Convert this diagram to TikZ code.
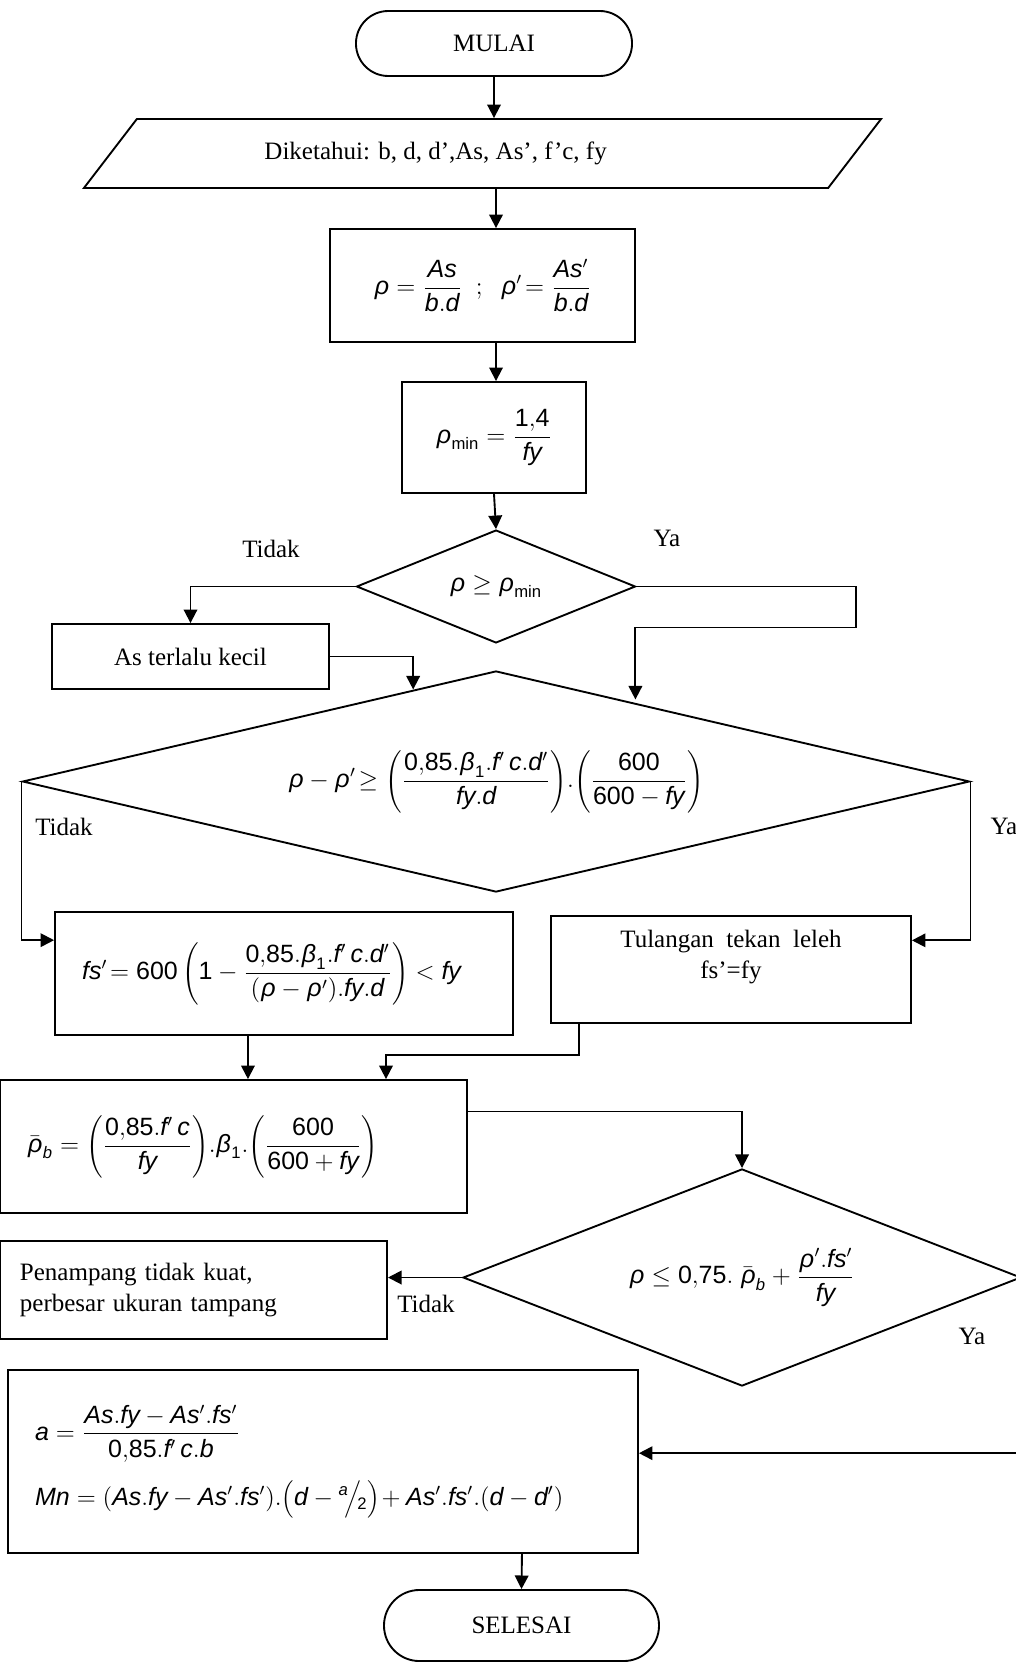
\documentclass[tikz,border=0pt]{standalone}
\usepackage{mathspec}
\setmainfont{Liberation Serif}
\setmathsfont(Digits,Latin,Greek)[Numbers={Lining,Proportional}]{Liberation Sans}
\setmathrm{Liberation Sans}
\usetikzlibrary{positioning,shapes.geometric,arrows.meta}

\begin{document}
\begin{tikzpicture}[
    x=0.48pt, y=-0.48pt, % one unit = one pixel of the page
    >={Triangle[length=6.5pt,width=6.5pt]}, line width=0.9pt,
    font=\fontsize{12}{14.5}\selectfont,
    box/.style={rectangle, draw=black, inner sep=2pt, align=center},
    leftbox/.style={box, align=left, inner ysep=2pt},
    terminal/.style={box, rounded corners=15.5pt},
    decision/.style={diamond, draw=black, inner sep=0pt},
    io/.style={trapezium, draw=black, trapezium left angle=23.5,
        trapezium right angle=156.5, trapezium stretches body, inner sep=0pt},
    lbl/.style={inner sep=0pt}
]
    \useasboundingbox (0,0) rectangle (1016,1663);
    \clip (0,0) rectangle (1016,1663);

    % --- Input and ratios ---
    \node[terminal, minimum width=132.5pt, minimum height=31.2pt] (Mulai) at (494,43.5) {MULAI};
    \node[io, minimum width=382.6pt, minimum height=33.1pt] (Input) at (482.5,153.5)
        {Diketahui: b, d, d’,As, As’, f’c, fy\hspace*{45pt}};
    \node[box, minimum width=146.4pt, minimum height=54.2pt] (Rho) at (482.5,285.5)
        {$\displaystyle \rho=\frac{As}{b.d}\;\;;\;\;\rho'\!=\frac{As'}{b.d}$};
    \node[box, minimum width=88.3pt, minimum height=53.3pt] (RhoMin) at (494,437.5)
        {$\displaystyle \rho_{\mathrm{min}}=\frac{1{,}4}{fy}$};

    % --- First check ---
    \node[decision, aspect=2.47, minimum width=133.9pt, minimum height=54.2pt] (CekMin) at (496,586.5)
        {$\rho\geq\rho_{\mathrm{min}}$};
    \node[box, minimum width=133pt, minimum height=31.2pt] (Kecil) at (190.5,656.5) {As terlalu kecil};

    % --- Yield check of compression steel ---
    \node[decision, aspect=4.28, minimum width=454.6pt, minimum height=106.1pt] (CekLeleh) at (496,781.5)
        {$\displaystyle \rho-\rho'\!\geq\left(\frac{0{,}85.\beta_1.f'\,c.d'}{fy.d}\right)\!.\!\left(\frac{600}{600-fy}\right)$};
    \node[leftbox, text width=193.8pt, inner xsep=13pt, minimum height=59pt] (Fs) at (284,973.5)
        {$\displaystyle fs'\!=600\left(1-\frac{0{,}85.\beta_1.f'\,c.d'}{(\rho-\rho').fy.d}\right)<fy$};
    \node[box, minimum width=172.8pt, minimum height=51.4pt] (Leleh) at (731,969.5)
        {Tulangan\ \ tekan\ \ leleh\\fs’=fy\\\mbox{}};

    % --- Balanced ratio and max check ---
    \node[leftbox, text width=198pt, inner xsep=13pt, minimum height=63.8pt] (RhoB) at (233.5,1146.5)
        {$\displaystyle \bar{\rho}_b=\left(\frac{0{,}85.f'\,c}{fy}\right)\!.\beta_1.\!\left(\frac{600}{600+fy}\right)$};
    \node[decision, aspect=2.57, minimum width=267.8pt, minimum height=104.2pt] (CekMaks) at (742,1277.5)
        {$\displaystyle \rho\leq 0{,}75.\;\bar{\rho}_b+\frac{\rho'.fs'}{fy}$};
    \node[leftbox, text width=166.6pt, inner xsep=9.6pt, minimum height=47pt] (Tampang) at (193.5,1290)
        {Penampang tidak kuat,\\perbesar ukuran tampang};

    % --- Moment capacity ---
    \node[leftbox, text width=276.4pt, inner xsep=13pt, minimum height=87.8pt] (Mn) at (323,1461.5)
        {$\displaystyle a=\frac{As.fy-As'.fs'}{0{,}85.f'\,c.b}$\\[8pt]
         $\displaystyle Mn=\left(As.fy-As'.fs'\right)\!.\!\left(d-{}^{a}\!\Big/\!_{2}\right)\!+As'.fs'.(d-d')$\\[8pt]};
    \node[terminal, rounded corners=17pt, minimum width=132pt, minimum height=34.1pt] (Selesai) at (521.5,1625.5) {SELESAI};

    % --- labels ---
    \node[lbl] (TidakA) at (271,549) {Tidak};
    \node[lbl] (YaA) at (667,538) {Ya};
    \node[lbl] (TidakB) at (64,827) {Tidak};
    \node[lbl] (YaB) at (1004,826) {Ya};
    \node[lbl] (TidakC) at (426,1304) {Tidak};
    \node[lbl] (YaC) at (972,1336) {Ya};

    % --- EDGES ---
    \draw[->] (Mulai.south) -- (Mulai.south |- Input.north);
    \draw[->] (Input.south -| CekMin.north) -- (Rho.north -| CekMin.north);
    \draw[->] (Rho.south -| CekMin.north) -- (RhoMin.north -| CekMin.north);
    \draw[->] (RhoMin.south) -- (CekMin.north);

    \draw[->] (CekMin.west) -| (Kecil.north);
    \draw[->] (CekMin.east) -- ++(220,0) -- ++(0,41) -- ++(-221,0) -- ++(0,72);
    \draw[->] (Kecil.east) -| (CekLeleh.132.4);

    \draw[->] (CekLeleh.west) |- ([yshift=16pt]Fs.west);
    \draw[->] (CekLeleh.east) |- ([yshift=14pt]Leleh.east);

    \draw[->] ([xshift=-17.3pt]Fs.south) -- ([xshift=-17.3pt]Fs.south |- RhoB.north);
    \draw[->] ([xshift=-73pt]Leleh.south) -- ++(0,31) -| ([xshift=73.2pt]RhoB.north);
    \draw[->] ([yshift=16.8pt]RhoB.east) -| (CekMaks.north);

    \draw[->] (CekMaks.west) -- (CekMaks.west -| Tampang.east);
    \draw[->] (CekMaks.east) -- ++(30,0) |- ([yshift=4pt]Mn.east);
    \draw[->] ([xshift=95.5pt]Mn.south) -- (Selesai.north);

\end{tikzpicture}
\end{document}
